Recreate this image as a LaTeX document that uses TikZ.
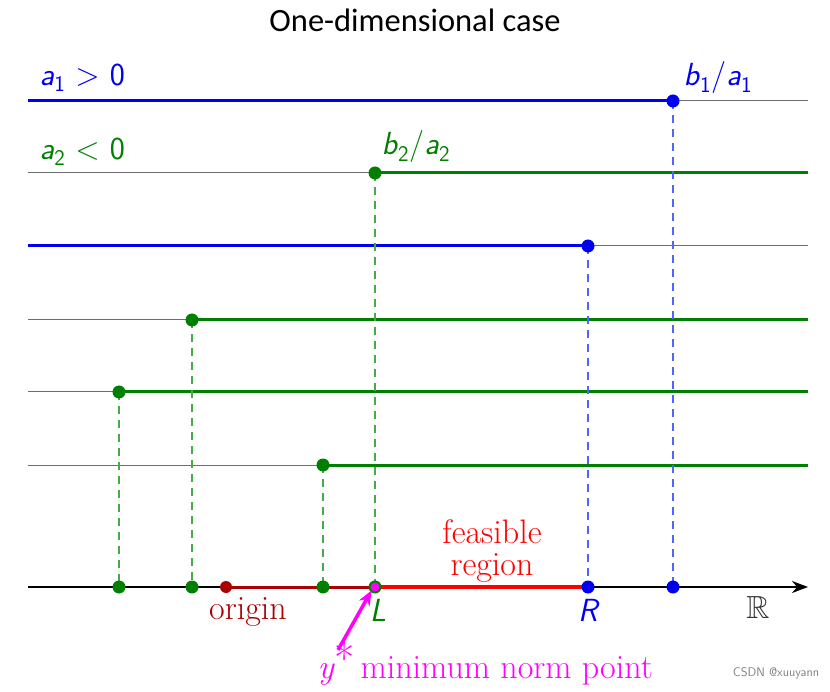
\documentclass[tikz,border=0pt]{standalone}
\usepackage{fontspec}
\usepackage{amssymb}
\usepackage{graphicx}
\newfontfamily\titlefont{Carlito}
\usetikzlibrary{arrows.meta}
\definecolor{myblue}{RGB}{0,0,240}
\definecolor{mygreen}{RGB}{0,128,0}
\definecolor{dashblue}{RGB}{80,100,255}
\definecolor{dashgreen}{RGB}{70,170,70}
\definecolor{mygray}{RGB}{110,110,110}
\definecolor{myred}{RGB}{255,0,0}
\definecolor{mydark}{RGB}{170,0,0}
\definecolor{mymag}{RGB}{255,0,255}
\tikzset{
  thin line/.style={draw=mygray, line width=1pt},
  thick line/.style={line width=3pt},
  dotpt/.style={circle, inner sep=0pt, minimum size=13pt},
  drop/.style={line width=1.1pt, dash pattern=on 8pt off 6pt},
  lbl/.style={font=\fontsize{32}{36}\selectfont\sffamily},
  serif/.style={font=\fontsize{34}{30}\selectfont},
}
\newcommand{\si}[1]{\textit{#1}}
\newcommand{\sub}[1]{\textsubscript{#1}}
\begin{document}
\begin{tikzpicture}[x=1pt,y=-1pt]
\useasboundingbox (0,0) rectangle (830,692);
\node[font=\titlefont\fontsize{32.5}{36}\selectfont] (title) at (415,20) {One-dimensional case};
% line ends
\foreach \n/\y in {1/101,2/173,3/246,4/320,5/392,6/465}{
  \coordinate (l\n) at (28,\y);
  \coordinate (r\n) at (808,\y);
}
% breakpoints
\coordinate (p1) at (673,101);
\coordinate (p2) at (375,173);
\coordinate (p3) at (588,246);
\coordinate (p4) at (192,320);
\coordinate (p5) at (119,392);
\coordinate (p6) at (323,465);
% axis
\coordinate (al) at (28,587);
\coordinate (ar) at (808,587);
\coordinate (q1) at (673,587);
\coordinate (q2) at (375,587);
\coordinate (q3) at (588,587);
\coordinate (q4) at (192,587);
\coordinate (q5) at (119,587);
\coordinate (q6) at (323,587);
\coordinate (o) at (226,587);
% lines
\draw[thick line, myblue] (l1) -- (p1); \draw[thin line] (p1) -- (r1);
\draw[thin line] (l2) -- (p2); \draw[thick line, mygreen] (p2) -- (r2);
\draw[thick line, myblue] (l3) -- (p3); \draw[thin line] (p3) -- (r3);
\draw[thin line] (l4) -- (p4); \draw[thick line, mygreen] (p4) -- (r4);
\draw[thin line] (l5) -- (p5); \draw[thick line, mygreen] (p5) -- (r5);
\draw[thin line] (l6) -- (p6); \draw[thick line, mygreen] (p6) -- (r6);
% drops
\draw[drop, dashblue] (p1) -- (q1);
\draw[drop, dashblue] (p3) -- (q3);
\foreach \i in {2,4,5,6} \draw[drop, dashgreen] (p\i) -- (q\i);
% axis
\draw[line width=2.5pt, -{Stealth[length=16pt,width=12pt]}] (al) -- (ar);
\draw[line width=3pt, mydark] (o) -- (q2);
\draw[line width=3.5pt, myred] (q2) -- (q3);
% dots
\foreach \i in {1,3} {\node[dotpt, fill=myblue] (d\i) at (p\i) {}; \node[dotpt, fill=myblue] (e\i) at (q\i) {};}
\foreach \i in {2,4,5,6} {\node[dotpt, fill=mygreen] (d\i) at (p\i) {}; \node[dotpt, fill=mygreen] (e\i) at (q\i) {};}
\node[dotpt, fill=mymag, minimum size=9pt] (ystar) at (q2) {};
\node[dotpt, fill=mydark, minimum size=12pt] (origin) at (o) {};
% labels
\node[lbl, text=myblue, anchor=west] (a1) at (36,78) {\si{a}\sub{1} > 0};
\node[lbl, text=myblue, anchor=west] (b1a1) at (680,78) {\si{b}\sub{1}/\si{a}\sub{1}};
\node[lbl, text=mygreen, anchor=west] (a2) at (36,152) {\si{a}\sub{2} < 0};
\node[lbl, text=mygreen, anchor=west] (b2a2) at (378,147) {\si{b}\sub{2}/\si{a}\sub{2}};
\node[serif, text=myred, anchor=base, inner sep=0pt] (feas) at (492,543) {feasible};
\node[serif, text=myred, anchor=base, inner sep=0pt] (reg) at (492,575) {region};
\node[serif, text=mydark] (orig) at (248,612) {origin};
\node[lbl, text=mygreen] (L) at (378,610) {\si{L}};
\node[lbl, text=myblue] (R) at (589,610) {\si{R}};
\node[text=mygray!50!black] (RR) at (758,607) {\scalebox{3.2}{$\mathbb{R}$}};
\node[serif, text=mymag, anchor=west] (yl) at (314,663) {\si{y}\raisebox{4pt}{\fontsize{44}{44}\selectfont *}\,minimum norm point};
\coordinate (ytail) at (338,650);
\draw[mymag, line width=3.5pt, -{Stealth[length=15pt,width=12pt]}] (ytail) -- (ystar.south west);
\node[font=\sffamily\fontsize{12.5}{14}\selectfont, text=gray] (wm) at (776,673) {CSDN @xuuyann};
\end{tikzpicture}
\end{document}
